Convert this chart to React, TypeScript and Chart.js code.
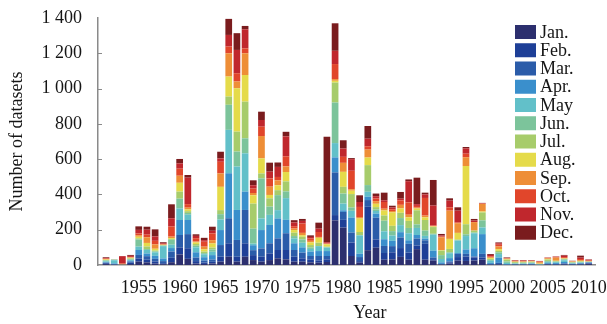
import React, { useEffect, useRef } from 'react';
import { Chart, registerables } from 'chart.js';

Chart.register(...registerables);

const years = [
  1951, 1952, 1953, 1954, 1955, 1956, 1957, 1958, 1959, 1960,
  1961, 1962, 1963, 1964, 1965, 1966, 1967, 1968, 1969, 1970,
  1971, 1972, 1973, 1974, 1975, 1976, 1977, 1978, 1979, 1980,
  1981, 1982, 1983, 1984, 1985, 1986, 1987, 1988, 1989, 1990,
  1991, 1992, 1993, 1994, 1995, 1996, 1997, 1998, 1999, 2000,
  2001, 2002, 2003, 2004, 2005, 2006, 2007, 2008, 2009, 2010,
];

const monthLabels = ['Jan.', 'Feb.', 'Mar.', 'Apr.', 'May', 'Jun.', 'Jul.', 'Aug.', 'Sep.', 'Oct.', 'Nov.', 'Dec.'];

const monthColors = [
  '#2c2f6e', '#1e3f97', '#2b5ca9', '#3a8fcc', '#62c0c9', '#7cc49b',
  '#a7cc6b', '#e5db4a', '#ee8e37', '#e1462b', '#c0272d', '#7a1c1e',
];

const jan = [5, 1, 1, 5, 19, 15, 8, 4, 16, 60, 35, 8, 6, 9, 19, 47, 19, 47, 28, 19, 28, 38, 32, 19, 19, 15, 13, 17, 253, 212, 51, 13, 84, 98, 30, 32, 46, 30, 90, 30, 25, 2, 8, 25, 23, 25, 30, 1, 2, 0, 1, 1, 1, 0, 2, 1, 2, 1, 2, 5];
const feb = [5, 1, 0, 8, 18, 15, 12, 6, 25, 40, 60, 14, 8, 9, 28, 76, 28, 76, 28, 28, 38, 47, 53, 28, 19, 17, 13, 15, 30, 44, 76, 9, 246, 47, 38, 40, 50, 40, 20, 90, 8, 2, 7, 20, 25, 18, 13, 2, 3, 1, 1, 1, 1, 0, 2, 2, 3, 2, 2, 4];
const mar = [3, 2, 1, 6, 20, 20, 15, 12, 35, 70, 80, 20, 11, 13, 66, 142, 95, 189, 28, 47, 57, 66, 95, 38, 32, 19, 25, 19, 242, 45, 57, 23, 38, 123, 40, 35, 60, 50, 40, 20, 10, 2, 5, 18, 15, 5, 20, 3, 7, 1, 1, 1, 2, 1, 3, 3, 4, 2, 3, 4];
const apr = [3, 5, 0, 5, 28, 15, 17, 15, 20, 85, 80, 30, 19, 25, 85, 255, 170, 104, 28, 104, 104, 113, 76, 38, 30, 25, 28, 28, 85, 9, 85, 19, 19, 23, 38, 30, 30, 20, 20, 10, 38, 9, 19, 5, 25, 47, 112, 6, 30, 3, 2, 2, 3, 1, 5, 5, 8, 2, 4, 2];
const may = [5, 18, 0, 5, 19, 20, 20, 70, 19, 66, 30, 28, 17, 19, 60, 246, 246, 217, 9, 66, 57, 47, 123, 28, 26, 15, 28, 19, 81, 38, 38, 104, 28, 15, 45, 30, 40, 40, 40, 15, 91, 19, 28, 70, 76, 85, 38, 12, 20, 7, 3, 3, 4, 1, 6, 5, 10, 3, 3, 2];
const jun = [5, 3, 0, 4, 40, 5, 5, 3, 28, 55, 10, 9, 6, 13, 30, 142, 85, 85, 85, 227, 47, 85, 38, 13, 19, 9, 0, 3, 230, 57, 19, 0, 38, 9, 60, 25, 40, 30, 20, 30, 5, 22, 5, 3, 10, 4, 40, 5, 10, 8, 3, 4, 3, 1, 5, 3, 5, 3, 3, 1];
const jul = [2, 1, 0, 4, 7, 15, 5, 2, 5, 40, 10, 10, 9, 11, 23, 47, 113, 208, 142, 28, 47, 28, 57, 19, 15, 13, 19, 3, 113, 38, 76, 19, 113, 13, 30, 30, 30, 40, 80, 60, 38, 25, 19, 3, 57, 11, 45, 5, 8, 10, 5, 4, 4, 2, 8, 3, 3, 3, 3, 1];
const aug = [3, 0, 1, 4, 9, 20, 10, 2, 5, 50, 10, 9, 13, 23, 132, 113, 246, 151, 47, 85, 19, 28, 53, 15, 9, 15, 28, 13, 10, 85, 19, 76, 43, 19, 28, 76, 25, 20, 10, 15, 3, 3, 57, 38, 330, 0, 5, 5, 10, 3, 2, 2, 2, 2, 3, 2, 2, 2, 3, 1];
const sep = [3, 0, 3, 2, 9, 32, 25, 2, 8, 40, 10, 5, 15, 19, 76, 132, 38, 123, 13, 127, 47, 28, 32, 9, 13, 9, 5, 3, 10, 51, 9, 9, 45, 15, 10, 8, 20, 15, 5, 10, 3, 73, 160, 55, 50, 48, 43, 5, 15, 3, 3, 2, 2, 8, 4, 18, 3, 2, 5, 2];
const oct = [3, 0, 4, 3, 10, 15, 20, 3, 57, 40, 20, 19, 28, 38, 66, 38, 47, 28, 25, 53, 47, 19, 57, 13, 53, 13, 28, 3, 85, 34, 104, 57, 19, 15, 38, 10, 25, 70, 10, 100, 3, 4, 19, 5, 20, 0, 2, 5, 10, 2, 3, 3, 2, 4, 3, 4, 5, 2, 6, 4];
const nov = [3, 0, 40, 6, 20, 28, 25, 4, 47, 30, 150, 13, 9, 15, 19, 66, 132, 108, 19, 38, 38, 57, 113, 21, 15, 9, 19, 6, 75, 47, 66, 28, 43, 13, 10, 10, 10, 120, 10, 20, 113, 6, 38, 66, 30, 9, 2, 8, 8, 2, 2, 3, 2, 2, 1, 2, 8, 1, 8, 4];
const dec = [4, 1, 1, 5, 20, 17, 40, 6, 79, 25, 15, 9, 13, 23, 38, 91, 95, 19, 28, 47, 51, 25, 26, 13, 11, 9, 34, 598, 156, 47, 6, 38, 72, 15, 43, 10, 38, 10, 150, 10, 145, 9, 13, 19, 8, 9, 2, 5, 5, 3, 2, 2, 2, 1, 1, 1, 4, 1, 11, 2];

const monthSeries = [jan, feb, mar, apr, may, jun, jul, aug, sep, oct, nov, dec];

const yTickValues = [0, 200, 400, 600, 800, 1000, 1200, 1400];
const yTickLabels = ['0', '200', '400', '600', '800', '1 000', '1 200', '1 400'];
const xTickYears = [1955, 1960, 1965, 1970, 1975, 1980, 1985, 1990, 1995, 2000, 2005, 2010];
const xAxisTitle = 'Year';
const yAxisTitle = 'Number of datasets';

const FONT_FAMILY = "'Liberation Serif', 'Times New Roman', serif";
const AXIS_COLOR = '#8a8a8a';
const TEXT_COLOR = '#151515';

const zeroPadding = (s: any) => {
  s.paddingTop = 0;
  s.paddingBottom = 0;
  s.paddingLeft = 0;
  s.paddingRight = 0;
};

const decorPlugin = {
  id: 'decor',
  afterDraw(chart: any) {
    const { ctx, chartArea, scales } = chart;
    const y = scales.y;
    ctx.save();
    // small inward tick marks on the y axis
    ctx.strokeStyle = AXIS_COLOR;
    ctx.lineWidth = 1;
    y.ticks.forEach((t: any) => {
      if (t.value <= 0 || t.value >= 1400) return;
      const py = Math.round(y.getPixelForValue(t.value)) + 0.5;
      ctx.beginPath();
      ctx.moveTo(chartArea.left, py);
      ctx.lineTo(chartArea.left + 4, py);
      ctx.stroke();
    });
    // x axis title, slightly right of centre as in the original figure
    ctx.font = `18px ${FONT_FAMILY}`;
    ctx.fillStyle = TEXT_COLOR;
    ctx.textAlign = 'center';
    ctx.textBaseline = 'middle';
    ctx.fillText(xAxisTitle, chartArea.left + (chartArea.right - chartArea.left) * 0.547, 313);
    // legend inside the plot, top right
    const boxX = 515;
    const boxW = 21;
    const boxH = 14;
    const top0 = 25;
    const step = 18.25;
    ctx.textAlign = 'left';
    chart.data.datasets.forEach((ds: any, i: number) => {
      const by = top0 + step * i;
      ctx.fillStyle = ds.backgroundColor;
      ctx.fillRect(boxX, by, boxW, boxH);
      ctx.fillStyle = TEXT_COLOR;
      ctx.fillText(ds.label, 540, by + boxH / 2 + 1);
    });
    ctx.restore();
  },
};

export default function App() {
  const canvasRef = useRef<HTMLCanvasElement | null>(null);

  useEffect(() => {
    if (!canvasRef.current) return;
    const font = { family: FONT_FAMILY, size: 18 };
    const chart = new Chart(canvasRef.current, {
      type: 'bar',
      data: {
        labels: years,
        datasets: monthSeries.map((d, i) => ({
          label: monthLabels[i],
          data: d,
          backgroundColor: monthColors[i],
          borderWidth: 0,
          stack: 'all',
          barPercentage: 0.82,
          categoryPercentage: 1,
        })),
      },
      options: {
        responsive: false,
        animation: false,
        layout: { padding: { top: 18, right: 12, left: 0, bottom: 0 } },
        plugins: {
          legend: { display: false },
          tooltip: { enabled: false },
        },
        scales: {
          x: {
            type: 'linear',
            offset: false,
            min: 1950.02,
            max: 2010.77,
            grid: { display: false, drawTicks: false, offset: false },
            border: { display: true, color: AXIS_COLOR, width: 1.5 },
            afterBuildTicks: (s: any) => {
              s.ticks = xTickYears.map((v) => ({ value: v }));
            },
            ticks: {
              autoSkip: false,
              maxRotation: 0,
              padding: 12,
              font,
              color: TEXT_COLOR,
              callback: (v: any) => String(v),
            },
            title: { display: false },
            afterFit: (s: any) => {
              s.height = 59;
              zeroPadding(s);
            },
          },
          y: {
            stacked: true,
            min: 0,
            max: 1400,
            grid: { display: false, drawTicks: false },
            border: { display: true, color: AXIS_COLOR, width: 1.5 },
            afterBuildTicks: (s: any) => {
              s.ticks = yTickValues.map((v) => ({ value: v }));
            },
            ticks: {
              padding: 16,
              font,
              color: TEXT_COLOR,
              callback: (v: any) => yTickLabels[yTickValues.indexOf(Number(v))],
            },
            title: {
              display: true,
              text: yAxisTitle,
              font,
              color: TEXT_COLOR,
              padding: { top: 6, bottom: 0 },
            },
            afterFit: (s: any) => {
              s.width = 98;
              zeroPadding(s);
            },
          },
        },
      } as any,
      plugins: [decorPlugin],
    });
    return () => chart.destroy();
  }, []);

  return (
    <div style={{ position: 'absolute', left: 0, top: 0, width: 607, height: 324, background: '#fff' }}>
      <canvas ref={canvasRef} width={607} height={324} style={{ display: 'block' }} />
    </div>
  );
}
